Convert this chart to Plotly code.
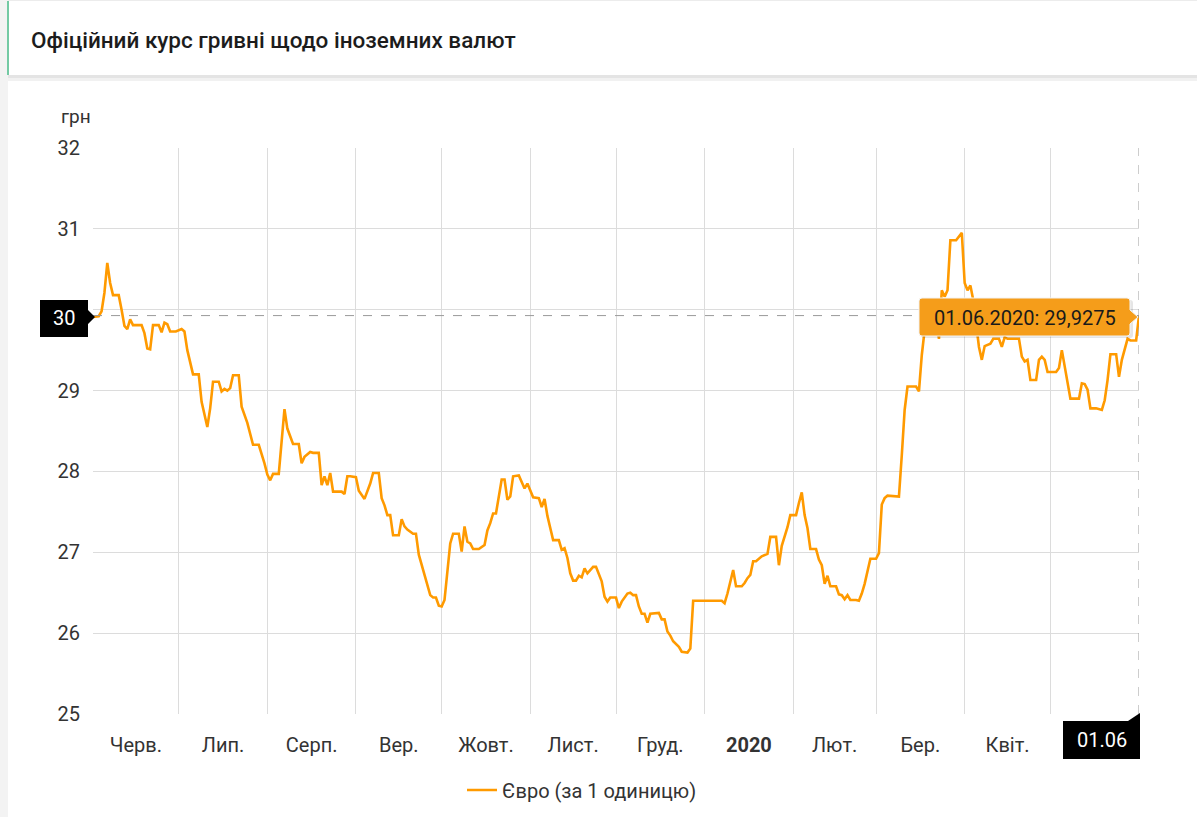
import pandas as pd
import plotly.graph_objects as go

# ---------------- data ----------------
title_text = "Офіційний курс гривні щодо іноземних валют"
unit_label = "грн"
series_name = "Євро (за 1 одиницю)"
start_date = "2019-06-01"
end_date = "2020-06-01"

# days since start_date (official NBU EUR rate, UAH per 1 EUR)
day_offsets = [
    0, 2, 3, 4, 5, 6, 7, 9, 10, 11, 12, 13, 14, 17, 18, 19, 20, 21, 23, 24,
    25, 26, 27, 29, 31, 32, 33, 35, 37, 38, 40, 41, 42, 44, 45, 46, 47, 48, 49, 51,
    52, 54, 56, 58, 60, 61, 62, 63, 65, 66, 67, 68, 70, 72, 73, 74, 76, 77, 79, 80,
    81, 82, 83, 84, 87, 88, 89, 90, 92, 93, 95, 97, 98, 100, 101, 102, 103, 104, 105, 107,
    108, 109, 110, 112, 113, 114, 116, 117, 118, 119, 120, 121, 122, 123, 124, 125, 126, 128, 129, 130,
    131, 132, 133, 135, 137, 138, 139, 140, 141, 143, 144, 145, 146, 147, 149, 151, 152, 154, 156, 157,
    158, 159, 160, 161, 163, 164, 165, 166, 167, 168, 169, 170, 171, 172, 173, 175, 176, 178, 179, 180,
    181, 183, 184, 185, 187, 188, 189, 190, 191, 192, 193, 194, 195, 198, 199, 200, 201, 202, 203, 204,
    205, 206, 208, 209, 210, 220, 221, 222, 224, 225, 227, 228, 229, 230, 231, 232, 233, 234, 236, 237,
    239, 240, 241, 242, 243, 244, 246, 247, 248, 249, 250, 251, 253, 254, 255, 256, 257, 258, 260, 261,
    262, 263, 264, 265, 267, 268, 269, 270, 271, 272, 274, 275, 276, 277, 278, 282, 283, 284, 285, 288,
    289, 290, 291, 292, 294, 295, 296, 297, 298, 299, 300, 302, 304, 305, 306, 307, 308, 309, 310, 311,
    312, 314, 315, 317, 318, 319, 320, 324, 325, 326, 327, 328, 330, 331, 332, 333, 334, 337, 338, 339,
    340, 341, 342, 345, 346, 347, 348, 349, 351, 353, 354, 355, 356, 358, 359, 360, 362, 363, 365, 366,
]
eur_rates = [
    29.91, 29.92, 29.98, 30.21, 30.58, 30.33, 30.18, 30.18, 30.00, 29.80, 29.76, 29.88, 29.81, 29.81, 29.71, 29.52, 29.51, 29.81, 29.81, 29.72,
    29.84, 29.82, 29.73, 29.73, 29.76, 29.73, 29.50, 29.20, 29.20, 28.86, 28.55, 28.78, 29.11, 29.11, 28.99, 29.02, 29.00, 29.03, 29.19, 29.19,
    28.80, 28.60, 28.33, 28.33, 28.10, 27.96, 27.89, 27.97, 27.97, 28.35, 28.77, 28.53, 28.34, 28.34, 28.10, 28.18, 28.24, 28.23, 28.23, 27.83,
    27.94, 27.83, 27.98, 27.75, 27.75, 27.72, 27.94, 27.94, 27.93, 27.76, 27.66, 27.85, 27.98, 27.98, 27.67, 27.58, 27.46, 27.46, 27.21, 27.21,
    27.41, 27.32, 27.28, 27.23, 27.23, 26.97, 26.72, 26.62, 26.47, 26.44, 26.44, 26.34, 26.33, 26.41, 26.74, 27.11, 27.23, 27.23, 27.01, 27.32,
    27.13, 27.11, 27.04, 27.04, 27.09, 27.27, 27.36, 27.48, 27.48, 27.90, 27.90, 27.65, 27.69, 27.94, 27.95, 27.79, 27.85, 27.68, 27.67, 27.56,
    27.66, 27.45, 27.30, 27.15, 27.15, 27.03, 27.05, 26.93, 26.74, 26.65, 26.65, 26.71, 26.69, 26.80, 26.74, 26.82, 26.82, 26.64, 26.45, 26.39,
    26.44, 26.44, 26.31, 26.39, 26.49, 26.50, 26.47, 26.47, 26.33, 26.24, 26.24, 26.13, 26.24, 26.25, 26.17, 26.17, 26.02, 25.97, 25.90, 25.87,
    25.83, 25.77, 25.76, 25.81, 26.40, 26.40, 26.37, 26.49, 26.78, 26.58, 26.58, 26.62, 26.68, 26.72, 26.89, 26.89, 26.92, 26.95, 26.98, 27.19,
    27.19, 26.84, 27.08, 27.19, 27.31, 27.46, 27.46, 27.61, 27.74, 27.46, 27.30, 27.04, 27.04, 26.91, 26.84, 26.61, 26.71, 26.58, 26.58, 26.48,
    26.47, 26.42, 26.47, 26.41, 26.41, 26.40, 26.49, 26.61, 26.78, 26.92, 26.92, 26.99, 27.59, 27.67, 27.70, 27.69, 28.20, 28.76, 29.05, 29.05,
    28.99, 29.44, 29.75, 29.95, 29.85, 29.90, 29.64, 30.24, 30.16, 30.24, 30.86, 30.86, 30.95, 30.33, 30.24, 30.30, 30.12, 29.85, 29.54, 29.38,
    29.55, 29.58, 29.64, 29.64, 29.54, 29.66, 29.64, 29.64, 29.42, 29.36, 29.38, 29.13, 29.13, 29.38, 29.42, 29.38, 29.23, 29.23, 29.28, 29.50,
    29.30, 29.13, 28.90, 28.90, 29.09, 29.08, 29.01, 28.78, 28.78, 28.76, 28.88, 29.13, 29.45, 29.45, 29.17, 29.38, 29.64, 29.62, 29.62, 29.9275,
]
month_labels = ["Черв.", "Лип.", "Серп.", "Вер.", "Жовт.", "Лист.", "Груд.",
                "<b>2020</b>", "Лют.", "Бер.", "Квіт."]
y_ticks = [25, 26, 27, 28, 29, 30, 31, 32]

# ---------------- derived ----------------
dates = pd.Timestamp(start_date) + pd.to_timedelta(day_offsets, unit="D")
month_starts = pd.date_range(start_date, end_date, freq="MS")
mids = month_starts[:-1] + (month_starts[1:] - month_starts[:-1]) / 2
label_pos = list(mids[:len(month_labels)])

last_date = dates[-1]
last_val = eur_rates[-1]
tooltip_text = f"{last_date:%d.%m.%Y}: " + f"{last_val:.4f}".replace(".", ",")
# the y tick under the crosshair label is covered by it
y_ticktext = ["" if v == round(last_val) else str(v) for v in y_ticks]

# ---------------- geometry helpers (pixel -> paper) ----------------
W, H = 1197, 817
X0, X1, YT, YB = 93, 1139, 148, 714
def fx(p):
    return (p - X0) / (X1 - X0)
def fy(p):
    return (YB - p) / (YB - YT)

ORANGE = "#FF9A00"
TIP = "#F59D1A"
FONT = "Roboto"
FS = 20

fig = go.Figure()
fig.add_trace(go.Scatter(
    x=dates, y=eur_rates, mode="lines", name=series_name,
    line=dict(color=ORANGE, width=2.6), hoverinfo="skip",
))

shapes = []
# page decorations
shapes.append(dict(type="rect", xref="paper", yref="paper", x0=fx(0), x1=fx(8), y0=fy(H), y1=fy(0),
                   fillcolor="#f3f3f3", line=dict(width=0), layer="below"))
shapes.append(dict(type="rect", xref="paper", yref="paper", x0=fx(8), x1=fx(W), y0=fy(78), y1=fy(75),
                   fillcolor="#e4e4e4", line=dict(width=0), layer="below"))
shapes.append(dict(type="rect", xref="paper", yref="paper", x0=fx(8), x1=fx(W), y0=fy(81), y1=fy(78),
                   fillcolor="#f1f1f1", line=dict(width=0), layer="below"))
shapes.append(dict(type="rect", xref="paper", yref="paper", x0=fx(8), x1=fx(W), y0=fy(0), y1=fy(1),
                   fillcolor="#ececec", line=dict(width=0), layer="below"))
shapes.append(dict(type="rect", xref="paper", yref="paper", x0=fx(7), x1=fx(9), y0=fy(75), y1=fy(1),
                   fillcolor="#74caa4", line=dict(width=0), layer="below"))
# crosshair
shapes.append(dict(type="line", xref="paper", yref="y", x0=0, x1=1, y0=last_val, y1=last_val,
                   line=dict(color="#9a9a9a", width=1, dash="dash"), layer="above"))
shapes.append(dict(type="line", xref="x", yref="paper", x0=last_date, x1=last_date, y0=0, y1=1,
                   line=dict(color="#9a9a9a", width=1, dash="dash"), layer="above"))

def rounded_box_path(xl, xr, yt, yb, r, arrow=None):
    p = []
    p.append(f"M{fx(xl + r)},{fy(yt)}")
    p.append(f"L{fx(xr - r)},{fy(yt)}")
    p.append(f"Q{fx(xr)},{fy(yt)} {fx(xr)},{fy(yt + r)}")
    if arrow:
        ax, ay, ah = arrow
        p.append(f"L{fx(xr)},{fy(ay - ah)}")
        p.append(f"L{fx(ax)},{fy(ay)}")
        p.append(f"L{fx(xr)},{fy(ay + ah)}")
    p.append(f"L{fx(xr)},{fy(yb - r)}")
    p.append(f"Q{fx(xr)},{fy(yb)} {fx(xr - r)},{fy(yb)}")
    p.append(f"L{fx(xl + r)},{fy(yb)}")
    p.append(f"Q{fx(xl)},{fy(yb)} {fx(xl)},{fy(yb - r)}")
    p.append(f"L{fx(xl)},{fy(yt + r)}")
    p.append(f"Q{fx(xl)},{fy(yt)} {fx(xl + r)},{fy(yt)}")
    p.append("Z")
    return " ".join(p)

# tooltip (shadow + box)
shapes.append(dict(type="path", xref="paper", yref="paper",
                   path=rounded_box_path(921, 1133, 300, 338, 3),
                   fillcolor="rgba(0,0,0,0.10)", line=dict(width=0), layer="above"))
shapes.append(dict(type="path", xref="paper", yref="paper",
                   path=rounded_box_path(919, 1130, 298, 336, 3, arrow=(1138, 317, 7)),
                   fillcolor=TIP, line=dict(color="#f3f3f3", width=1), layer="above"))
# y crosshair label
shapes.append(dict(type="path", xref="paper", yref="paper",
                   path=(f"M{fx(40)},{fy(300)} L{fx(88)},{fy(300)} L{fx(88)},{fy(310)} L{fx(95)},{fy(317)} "
                         f"L{fx(88)},{fy(324)} L{fx(88)},{fy(337)} L{fx(40)},{fy(337)} Z"),
                   fillcolor="#000000", line=dict(width=0), layer="above"))
# x crosshair label
shapes.append(dict(type="path", xref="paper", yref="paper",
                   path=(f"M{fx(1063)},{fy(721)} L{fx(1128)},{fy(721)} L{fx(1140)},{fy(713)} "
                         f"L{fx(1140)},{fy(759)} L{fx(1063)},{fy(759)} Z"),
                   fillcolor="#000000", line=dict(width=0), layer="above"))

annotations = [
    dict(text=title_text, xref="paper", yref="paper", x=fx(29), y=fy(40), xanchor="left", yanchor="middle",
         showarrow=False, font=dict(family=FONT, size=22.5, color="#1c1c1c", weight=500)),
    dict(text=unit_label, xref="paper", yref="paper", x=fx(59), y=fy(116), xanchor="left", yanchor="middle",
         showarrow=False, font=dict(family=FONT, size=FS - 1, color="#333333")),
    dict(text=tooltip_text, xref="paper", yref="paper", x=fx(1025), y=fy(318), xanchor="center", yanchor="middle",
         showarrow=False, font=dict(family=FONT, size=FS, color="#1a1a1a")),
    dict(text=f"{round(last_val)}", xref="paper", yref="paper", x=fx(64), y=fy(318), xanchor="center",
         yanchor="middle", showarrow=False, font=dict(family=FONT, size=FS, color="#ffffff")),
    dict(text=f"{last_date:%d.%m}", xref="paper", yref="paper", x=fx(1102), y=fy(740), xanchor="center",
         yanchor="middle", showarrow=False, font=dict(family=FONT, size=FS, color="#ffffff")),
]

fig.update_layout(
    width=W, height=H, autosize=False,
    margin=dict(l=X0, r=W - X1, t=YT, b=H - YB, pad=0, autoexpand=False),
    paper_bgcolor="#ffffff", plot_bgcolor="#ffffff",
    font=dict(family=FONT, size=FS, color="#333333"),
    showlegend=True,
    legend=dict(orientation="h", x=fx(462), y=fy(790), xanchor="left", yanchor="middle",
                font=dict(family=FONT, size=FS, color="#333333"), itemwidth=30,
                bgcolor="rgba(0,0,0,0)"),
    hovermode=False,
    shapes=shapes,
    annotations=annotations,
    xaxis=dict(
        type="date", range=[pd.Timestamp(start_date), pd.Timestamp(end_date)],
        tickmode="array", tickvals=label_pos, ticktext=month_labels,
        showgrid=False, zeroline=False, showline=False, automargin=False,
        ticks="outside", ticklen=13, tickcolor="rgba(0,0,0,0)",
        tickfont=dict(family=FONT, size=FS, color="#333333"),
        minor=dict(tickmode="array", tickvals=list(month_starts), showgrid=True,
                   gridcolor="#dcdcdc", gridwidth=1, ticks=""),
        fixedrange=True,
    ),
    yaxis=dict(
        range=[25, 32], tickmode="array", tickvals=y_ticks, ticktext=y_ticktext,
        showgrid=True, gridcolor="#dcdcdc", gridwidth=1, zeroline=False, showline=False, automargin=False,
        ticks="outside", ticklen=8, tickcolor="rgba(0,0,0,0)",
        tickfont=dict(family=FONT, size=FS, color="#333333"),
        fixedrange=True,
    ),
)

fig.write_html("out.html", config={"displayModeBar": False})
